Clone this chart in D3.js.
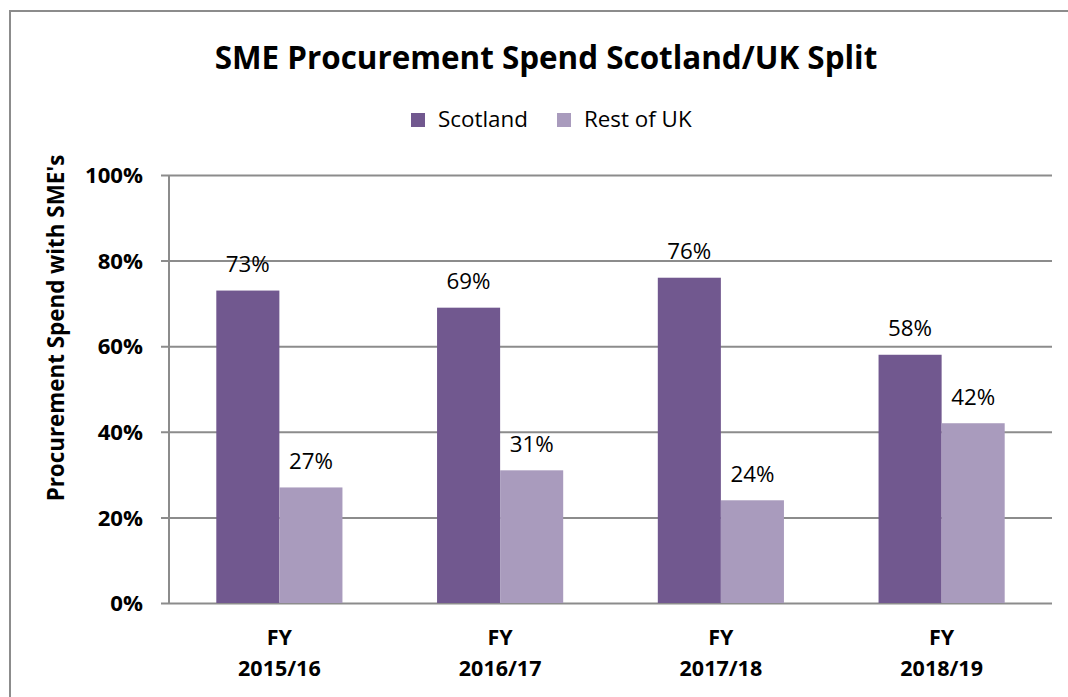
<!DOCTYPE html>
<html><head><meta charset="utf-8">
<script src="https://cdn.jsdelivr.net/npm/d3@7"></script>
<style>
body{margin:0;background:#fff;}
svg{display:block;font-family:"Open Sans",sans-serif;}
</style></head>
<body><svg id="c" width="1068" height="697"></svg>
<script>
const categories = [["FY","2015/16"],["FY","2016/17"],["FY","2017/18"],["FY","2018/19"]];
const seriesNames = ["Scotland","Rest of UK"];
const scotland = [73,69,76,58];
const restOfUK = [27,31,24,42];
const yTicks = [0,20,40,60,80,100];
const title = "SME Procurement Spend Scotland/UK Split";
const yTitle = "Procurement Spend with SME's";
const colors = ["#71588F","#A99BBD"];

const svg = d3.select("#c");
const W=1068,H=697;
const m = {left:169, right:1052, top:175, bottom:603};

// scale a group's font-size so that one reference node has the target width
function fitGroup(sel, refNode, target){
  const w = refNode.getComputedTextLength();
  const fs = parseFloat(d3.select(refNode).attr("font-size"));
  sel.attr("font-size", fs*target/w);
}

// frame
svg.append("rect").attr("x",10).attr("y",11).attr("width",W+10).attr("height",H+10)
  .attr("fill","#fff").attr("stroke","#8c8c8c").attr("stroke-width",2);

const x0 = d3.scaleBand().domain(d3.range(categories.length)).range([m.left,m.right]).paddingInner(0).paddingOuter(0);
const x1 = d3.scaleBand().domain([0,1]).range([0,x0.bandwidth()]).paddingInner(0).paddingOuter(0.75);
const y = d3.scaleLinear().domain([0,100]).range([m.bottom,m.top]);

// gridlines via axis
const yAxis = d3.axisLeft(y).tickValues(yTicks).tickSize(-(m.right-m.left+8)).tickFormat(d=>d+"%").tickPadding(18);
const gy = svg.append("g").attr("transform",`translate(${m.left-8},0)`).call(yAxis);
gy.select(".domain").remove();
gy.selectAll(".tick line").attr("stroke","#8c8c8c").attr("stroke-width",2);
const ytl = gy.selectAll(".tick text").attr("font-size",21).attr("font-weight","bold").attr("fill","#000")
  .attr("font-family","'Open Sans',sans-serif").attr("dy","0.35em");
fitGroup(ytl, ytl.nodes()[ytl.size()-1], 58);
// vertical axis line
svg.append("line").attr("x1",m.left).attr("x2",m.left).attr("y1",m.top).attr("y2",m.bottom)
  .attr("stroke","#8c8c8c").attr("stroke-width",2);

const data = categories.map((c,i)=>[scotland[i],restOfUK[i]]);
const groups = svg.append("g").selectAll("g").data(data).join("g")
  .attr("transform",(d,i)=>`translate(${x0(i)},0)`);
groups.selectAll("rect").data(d=>d).join("rect")
  .attr("x",(d,j)=>x1(j)).attr("width",x1.bandwidth())
  .attr("y",d=>y(d)).attr("height",d=>y(0)-y(d))
  .attr("fill",(d,j)=>colors[j]);
const dl = groups.selectAll("text").data(d=>d).join("text")
  .attr("x",(d,j)=>x1(j)+x1.bandwidth()/2).attr("y",d=>y(d)-18.5)
  .attr("text-anchor","middle").attr("font-size",20).attr("fill","#000")
  .text(d=>d+"%");
fitGroup(dl, dl.nodes()[0], 44);

// x labels (two lines)
const xg = svg.append("g").attr("font-size",21.5).attr("font-weight","bold").attr("fill","#000")
  .attr("text-anchor","middle");
xg.selectAll("text.l1").data(categories).join("text").attr("class","l1")
  .attr("x",(d,i)=>x0(i)+x0.bandwidth()/2).attr("y",645).text(d=>d[0]);
xg.selectAll("text.l2").data(categories).join("text").attr("class","l2")
  .attr("x",(d,i)=>x0(i)+x0.bandwidth()/2).attr("y",676).text(d=>d[1]);

// title
const t = svg.append("text").attr("x",546).attr("y",69).attr("text-anchor","middle")
  .attr("font-size",30).attr("font-weight","bold").attr("fill","#000").text(title);
fitGroup(t, t.node(), 663);

// y title
const yt = svg.append("text").attr("transform","translate(64,328) rotate(-90)").attr("text-anchor","middle")
  .attr("font-size",19).attr("font-weight","bold").attr("fill","#000").text(yTitle);
fitGroup(yt, yt.node(), 347);

// legend
const legX = [411,557];
const lg = svg.append("g").selectAll("g").data(seriesNames).join("g")
  .attr("transform",(d,i)=>`translate(${legX[i]},113)`);
lg.append("rect").attr("width",14).attr("height",14).attr("fill",(d,i)=>colors[i]);
const lt = lg.append("text").attr("x",27).attr("y",14).attr("font-size",21).attr("fill","#000").text(d=>d);
fitGroup(lt, lt.nodes()[0], 90);
</script></body></html>
